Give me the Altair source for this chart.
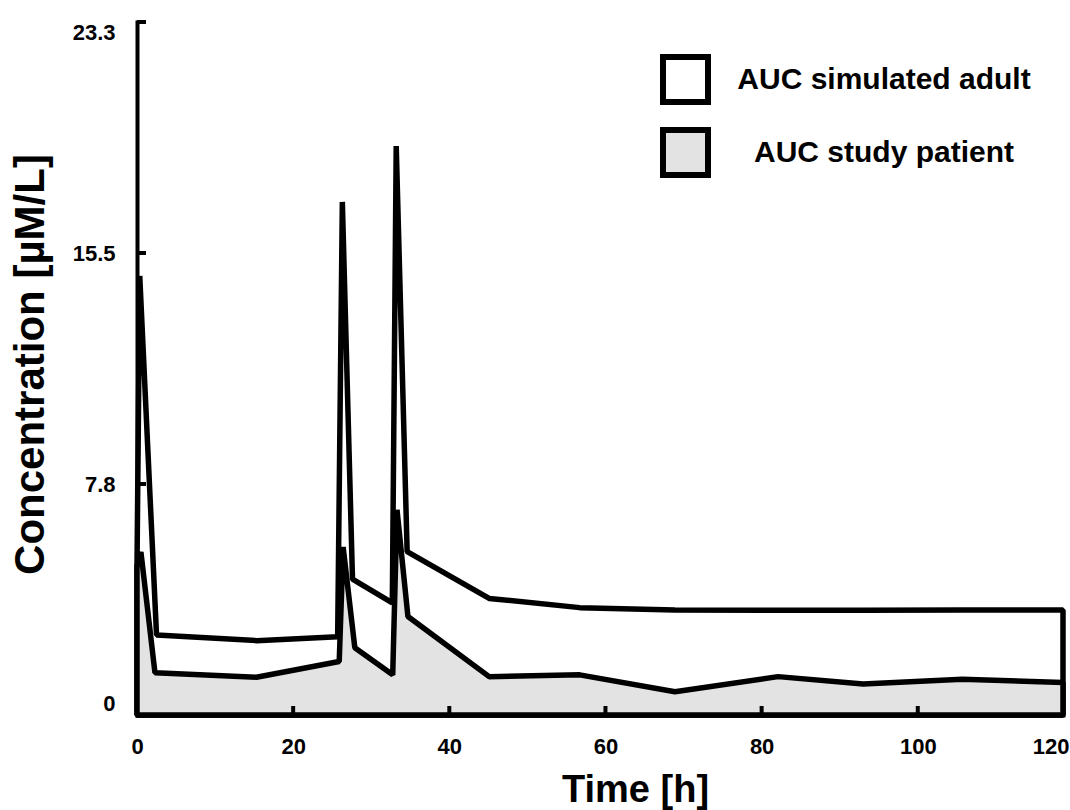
import altair as alt
import pandas as pd

# ---- data ----
adult_t = [0, 0.35, 2.5, 15.3, 25.7, 26.3, 27.6, 32.7, 33.2, 34.6, 45.1, 56.7, 68.9, 82.1, 93.0, 105.7, 118.6]
adult_c = [5.0, 14.76, 2.69, 2.5, 2.63, 17.25, 4.57, 3.77, 19.13, 5.49, 3.92, 3.61, 3.53, 3.52, 3.52, 3.53, 3.53]

patient_t = [0, 0.5, 2.3, 15.3, 25.9, 26.4, 27.9, 32.75, 33.3, 34.7, 45.1, 56.7, 68.9, 82.1, 93.0, 105.7, 118.6]
patient_c = [5.0, 5.48, 1.42, 1.27, 1.8, 5.65, 2.26, 1.35, 6.9, 3.31, 1.29, 1.35, 0.78, 1.29, 1.04, 1.2, 1.09]

series_names = ["AUC simulated adult", "AUC study patient"]
series_fill = ["#ffffff", "#e3e3e3"]

x_ticks = [0, 20, 40, 60, 80, 100, 118.6]
x_inner_ticks = [20, 40, 60, 80, 100]
y_ticks = [0, 23.3 / 3, 46.6 / 3, 23.3]
y_inner_ticks = [23.3 / 3, 46.6 / 3, 23.3]

FONT = "Liberation Sans"
W, H = 926, 693

adult = pd.DataFrame({"t": adult_t, "c": adult_c, "series": series_names[0]})
patient = pd.DataFrame({"t": patient_t, "c": patient_c, "series": series_names[1]})
xt = pd.DataFrame({"t": x_inner_ticks})
yt = pd.DataFrame({"c": y_inner_ticks})

xscale = alt.Scale(domain=[0, 118.6], nice=False, zero=False)
yscale = alt.Scale(domain=[0, 23.3], nice=False)

fill_scale = alt.Scale(domain=series_names, range=series_fill)

x_axis = alt.Axis(
    values=x_ticks,
    labelExpr="datum.value > 110 ? '120' : datum.label",
    labelFlush=True,
    labelFlushOffset=6,
    labelBaseline="top",
    labelPadding=21,
    title="Time [h]",
    titleFontSize=38,
    titleX=498,
    titleY=86,
    titleBaseline="alphabetic",
)
y_axis = alt.Axis(
    values=y_ticks,
    labelExpr="datum.value == 0 ? '0' : format(datum.value, '.1f')",
    labelFlush=True,
    labelPadding=22,
    title="Concentration [µM/L]",
    titleFontSize=42,
    titleX=-107,
    titleY=342,
    titleAngle=-90,
    titleBaseline="middle",
    titleAlign="center",
)

legend = alt.Legend(
    orient="none",
    legendX=523,
    legendY=32,
    title=None,
    symbolType="square",
    symbolSize=2025,
    symbolStrokeWidth=6,
    symbolStrokeColor="black",
    symbolOpacity=1,
    labelFontSize=30,
    labelFont=FONT,
    labelFontWeight="bold",
    labelColor="black",
    labelAlign="center",
    labelOffset=173,
    labelLimit=400,
    rowPadding=4,
    padding=0,
)

area_adult = alt.Chart(adult).mark_area(
    stroke="black", strokeWidth=5.5, strokeJoin="bevel", opacity=1
).encode(
    x=alt.X("t:Q", scale=xscale, axis=x_axis),
    y=alt.Y("c:Q", scale=yscale, axis=y_axis, stack=None),
    fill=alt.Fill("series:N", scale=fill_scale, legend=legend),
)

area_patient = alt.Chart(patient).mark_area(
    stroke="black", strokeWidth=5.5, strokeJoin="bevel", opacity=1
).encode(
    x=alt.X("t:Q", scale=xscale),
    y=alt.Y("c:Q", scale=yscale, stack=None),
    fill=alt.Fill("series:N", scale=fill_scale, legend=legend),
)

xtick_layer = alt.Chart(xt).mark_rule(color="black", strokeWidth=4).encode(
    x=alt.X("t:Q", scale=xscale),
    y=alt.value(H),
    y2=alt.value(H - 9),
)
ytick_layer = alt.Chart(yt).mark_rule(color="black", strokeWidth=4).encode(
    y=alt.Y("c:Q", scale=yscale),
    x=alt.value(0),
    x2=alt.value(9),
)

chart = alt.layer(area_adult, area_patient, xtick_layer, ytick_layer).properties(
    width=W,
    height=H,
    autosize=alt.AutoSizeParams(type="none"),
    padding={"left": 137, "top": 22, "right": 7, "bottom": 95},
    background="white",
).configure_view(stroke=None).configure_axis(
    domainColor="black",
    domainWidth=4,
    domainCap="square",
    ticks=False,
    grid=False,
    labelFont=FONT,
    labelFontSize=22,
    labelFontWeight="bold",
    labelColor="black",
    titleFont=FONT,
    titleFontWeight="bold",
    titleColor="black",
)

chart.save("out.html", embed_options={"renderer": "svg", "actions": False})
